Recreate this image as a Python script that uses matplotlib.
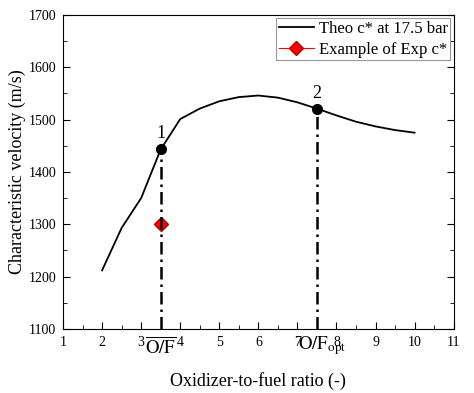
import numpy as np
import matplotlib
matplotlib.use('Agg')
import matplotlib.pyplot as plt

plt.rcParams['font.family'] = ['Liberation Serif', 'DejaVu Serif']
plt.rcParams['mathtext.fontset'] = 'stix'

# theoretical c* curve at 17.5 bar
of_theo = [2.0, 2.5, 3.0, 3.5, 4.0, 4.5, 5.0, 5.5, 6.0, 6.5, 7.0, 7.5,
           8.0, 8.5, 9.0, 9.5, 10.0]
cstar_theo = [1212, 1293, 1350, 1443, 1501, 1521, 1535, 1543, 1546, 1542,
              1533, 1521, 1508, 1496, 1487, 1480, 1475]

# experimental example
of_exp = [3.5]
cstar_exp = [1300]

# marked points
of_mark = [3.5, 7.5]
cstar_mark = [1443, 1521]
mark_labels = ['1', '2']

fig, ax = plt.subplots(figsize=(4.74, 3.93), dpi=100)
fig.subplots_adjust(left=0.133, right=0.957, top=0.962, bottom=0.163)

ax.plot(of_theo, cstar_theo, color='k', lw=1.3, label='Theo c* at 17.5 bar')
ax.plot(of_exp, cstar_exp, color='red', lw=0.8, marker='D', ms=7,
        markeredgecolor='#b00000', label='Example of Exp c*')

for x, y, t in zip(of_mark, cstar_mark, mark_labels):
    ax.plot([x, x], [1100, y], color='k', lw=1.8, ls=(0, (5, 2, 1, 2)))
    ax.plot(x, y, 'o', color='k', ms=7)
    ax.annotate(t, xy=(x, y), xytext=(0, 5), textcoords='offset points',
                ha='center', va='bottom', fontsize=13)

# O/F labels under the axis
ax.annotate(r'$\overline{\mathrm{O/F}}$', xy=(of_mark[0], 1100),
            xytext=(0, -5.5), textcoords='offset points', ha='center',
            va='top', fontsize=13.5, annotation_clip=False)
ax.annotate(r'$\mathrm{O/F}_{\mathrm{opt}}$', xy=(of_mark[1], 1100),
            xytext=(4, -4), textcoords='offset points', ha='center',
            va='top', fontsize=13.5, annotation_clip=False)

ax.set_xlim(1, 11)
ax.set_ylim(1100, 1700)
ax.set_xticks(np.arange(1, 12, 1))
ax.set_xticks(np.arange(1, 11.5, 0.5), minor=True)
ax.set_yticks(np.arange(1100, 1701, 100))
ax.set_yticks(np.arange(1100, 1701, 50), minor=True)
ax.tick_params(which='both', direction='in', right=True, top=False,
               labelsize=10, pad=5)
ax.tick_params(which='major', length=5)
ax.tick_params(which='minor', length=3)

ax.set_xlabel('Oxidizer-to-fuel ratio (-)', fontsize=13, labelpad=17)
ax.set_ylabel('Characteristic velocity (m/s)', fontsize=13, labelpad=1.5)

leg = ax.legend(loc='upper right', fontsize=12, fancybox=False,
                edgecolor='gray', borderpad=0.15, handlelength=2.1,
                handletextpad=0.3, borderaxespad=0.2, labelspacing=0.3)
leg.get_frame().set_linewidth(0.8)

plt.savefig('out.png', dpi=100)
